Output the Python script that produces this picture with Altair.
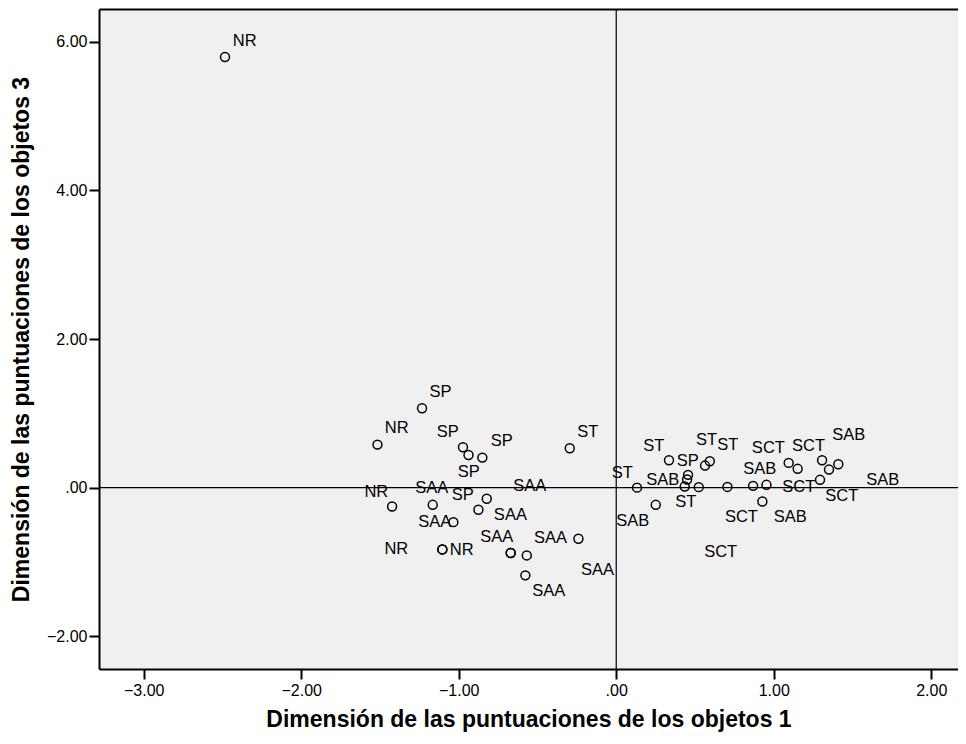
import altair as alt
import pandas as pd

# object scores (dimension 1, dimension 3)
pt_x = [-2.484,
        -1.233, -1.516, -0.973, -0.938, -0.850, -0.295, -1.423, -1.165, -1.034,
        -0.875, -0.822, -1.104, -1.104, -0.670, -0.670, -0.568, -0.577, -0.240,
        0.132, 0.251, 0.335, 0.456, 0.450, 0.435, 0.524, 0.594, 0.564, 0.706,
        0.869, 0.954, 0.928, 1.095, 1.152, 1.307, 1.410, 1.351, 1.294]
pt_y = [5.795,
        1.068, 0.579, 0.544, 0.440, 0.404, 0.530, -0.254, -0.231, -0.464,
        -0.298, -0.150, -0.831, -0.831, -0.880, -0.880, -0.912, -1.180, -0.688,
        0.000, -0.231, 0.369, 0.172, 0.109, 0.015, 0.007, 0.356, 0.297, 0.010,
        0.024, 0.038, -0.187, 0.333, 0.253, 0.369, 0.315, 0.243, 0.105]

# point labels and where they sit (data units)
lab_text = ["NR",
            "SP", "NR", "SP", "SP", "SP", "SP", "ST", "NR", "SAA", "SAA",
            "SAA", "SAA", "NR", "NR", "SAA", "SAA", "SAA", "SAA",
            "ST", "SAB", "ST", "SP", "SAB", "ST", "ST", "ST", "SCT", "SCT",
            "SAB", "SCT", "SAB", "SAB", "SCT", "SCT", "SAB", "SCT"]
lab_x = [-2.359,
         -1.116, -1.394, -1.070, -0.727, -0.937, -0.975, -0.181, -1.523, -1.171, -0.549,
         -0.672, -1.152, -1.396, -0.981, -0.759, -0.418, -0.119, -0.429,
         0.039, 0.105, 0.238, 0.454, 0.295, 0.441, 0.573, 0.708, 0.966, 1.221,
         0.911, 1.159, 1.476, 1.692, 1.432, 0.795, 1.105, 0.663]
lab_y = [6.005,
         1.283, 0.803, 0.749, 0.629, 0.212, -0.097, 0.749, -0.056, -0.003, 0.024,
         -0.365, -0.459, -0.822, -0.835, -0.661, -0.674, -1.113, -1.395,
         0.199, -0.446, 0.561, 0.360, 0.105, -0.191, 0.646, 0.575, 0.535, 0.561,
         0.252, 0.015, 0.709, 0.105, -0.110, -0.392, -0.392, -0.862]

X_DOMAIN = [-3.284, 2.17]
Y_DOMAIN = [-2.44, 6.44]
X_TICKS = [-3, -2, -1, 0, 1, 2]
Y_TICKS = [-2, 0, 2, 4, 6]
ORIGIN = [0]

points = pd.DataFrame({"d1": pt_x, "d3": pt_y})
labels = pd.DataFrame({"t": lab_text, "d1": lab_x, "d3": lab_y})
origin = pd.DataFrame({"z": ORIGIN})

FONT = "Liberation Sans"
label_expr = "datum.value == 0 ? '.00' : format(datum.value, '.2f')"
xs = alt.Scale(domain=X_DOMAIN, nice=False, zero=False)
ys = alt.Scale(domain=Y_DOMAIN, nice=False, zero=False)

vline = alt.Chart(origin).mark_rule(color="black", strokeWidth=1.2).encode(
    x=alt.X("z:Q", scale=xs, axis=None)
)
hline = alt.Chart(origin).mark_rule(color="black", strokeWidth=1.2).encode(
    y=alt.Y("z:Q", scale=ys, axis=None)
)

pts = alt.Chart(points).mark_point(
    shape="circle", filled=False, color="black", size=80, strokeWidth=1.5, opacity=1
).encode(
    x=alt.X("d1:Q", scale=xs, axis=alt.Axis(
        values=X_TICKS, labelExpr=label_expr, orient="bottom",
        title="Dimensión de las puntuaciones de los objetos 1",
        tickSize=10, labelPadding=3, titlePadding=10)),
    y=alt.Y("d3:Q", scale=ys, axis=alt.Axis(
        values=Y_TICKS, labelExpr=label_expr,
        title="Dimensión de las puntuaciones de los objetos 3",
        tickSize=10, labelPadding=2, titlePadding=13)),
)

txt = alt.Chart(labels).mark_text(
    font=FONT, fontSize=16.5, color="black", align="center", baseline="middle"
).encode(
    x=alt.X("d1:Q", scale=xs, axis=alt.Axis(
        orient="top", labels=False, ticks=False, title=None, grid=False,
        minExtent=0, maxExtent=0)),
    y=alt.Y("d3:Q", scale=ys, axis=None),
    text="t:N",
)

chart = alt.layer(vline, hline, pts, txt).resolve_axis(
    x="independent", y="independent"
).properties(
    width=859, height=660,
    autosize=alt.AutoSizeParams(type="none"),
    padding={"left": 91, "top": 1, "right": 0, "bottom": 67},
).configure_view(
    fill="#f0f0f0", stroke=None
).configure_axis(
    grid=False, domainColor="black", domainWidth=2, tickColor="black", tickWidth=2,
    labelFont=FONT, labelFontSize=16, labelColor="black",
    titleFont=FONT, titleFontSize=23, titleFontWeight="bold", titleColor="black",
)

chart.save("out.html", embed_options={"renderer": "svg", "actions": False})
